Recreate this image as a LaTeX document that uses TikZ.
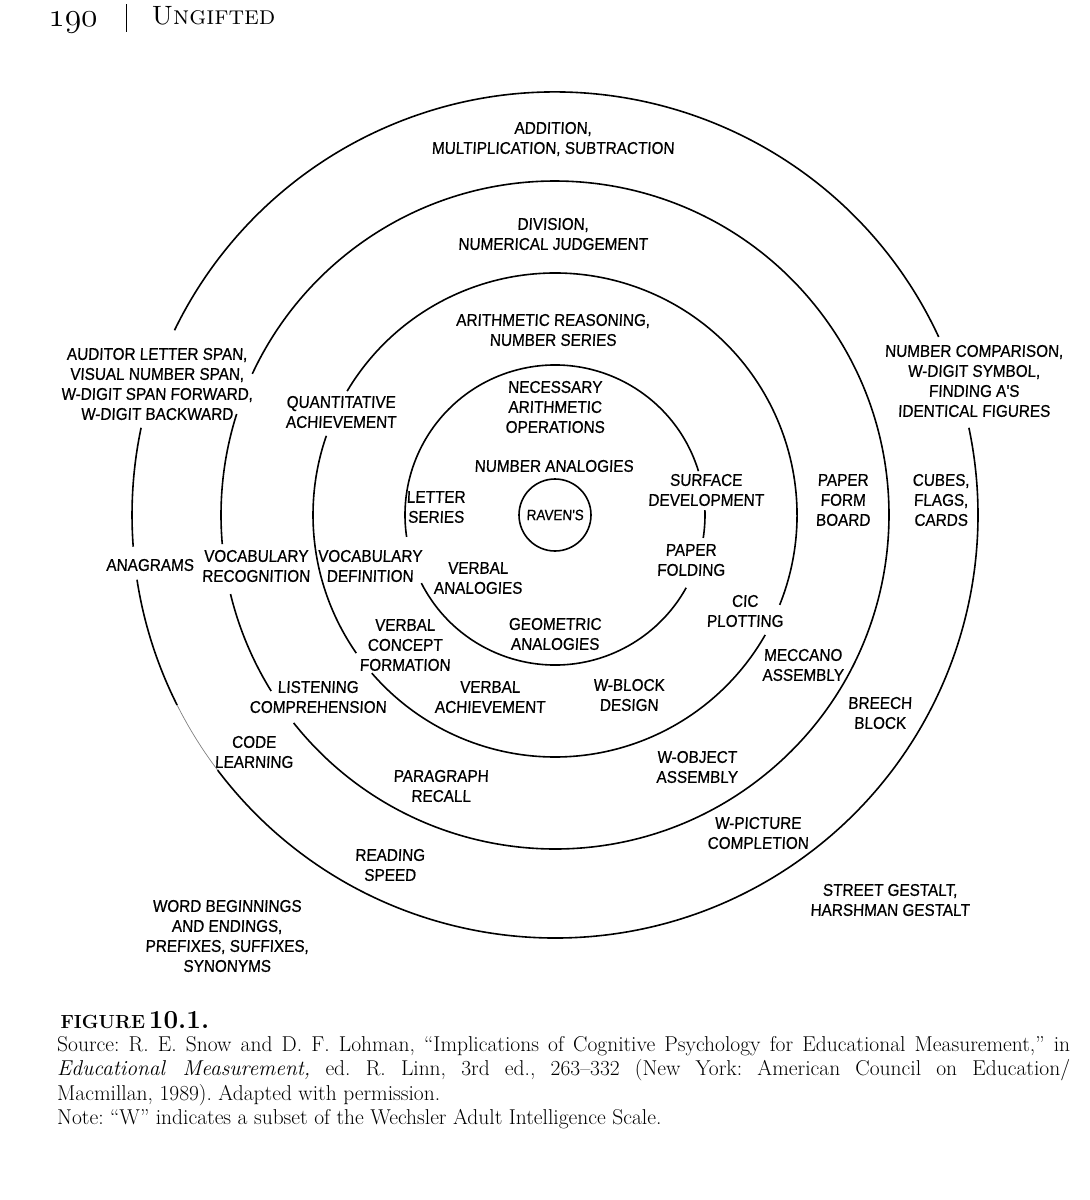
\documentclass[tikz,border=0pt]{standalone}
\usepackage{fontspec}
\usepackage{tikz}
\newfontfamily\handfont{Liberation Sans}[FakeStretch=0.9,FakeSlant=0.05,FakeBold=0.6]
\frenchspacing

\begin{document}
\begin{tikzpicture}[x=1pt,y=-1pt,
  ring/.style={line width=1.6pt},
  tag/.style={font=\handfont\fontsize{17}{20}\selectfont,align=center,inner sep=0pt}]
  \useasboundingbox (0,0) rectangle (1090,1200);
  \coordinate(c) at (555,515);
  \node(40)[anchor=base,scale=1.35,transform shape,inner sep=0pt] at (73,26){\fontsize{24}{24}\usefont{OML}{lmm}{m}{it}190};
  \node(41)[anchor=west] at (148,16){\fontsize{26.5}{26.5}\selectfont\textsc{Ungifted}};
  \draw[line width=0.8pt] (126,4)--(126,32);
  \node(1)[tag] at (553,139){ADDITION,\\MULTIPLICATION, SUBTRACTION};
  \node(2)[tag] at (553,234){DIVISION,\\NUMERICAL JUDGEMENT};
  \node(3)[tag] at (553,330){ARITHMETIC REASONING,\\NUMBER SERIES};
  \node(4)[tag] at (555,407){NECESSARY\\ARITHMETIC\\OPERATIONS};
  \node(5)[tag] at (554,466){NUMBER ANALOGIES};
  \node(6)[tag] at (436,507){LETTER\\SERIES};
  \node(7)[tag,draw,circle,ring,minimum size=72pt,font=\handfont\fontsize{15}{18}\selectfont] at (555,515){RAVEN'S};
  \node(8)[tag] at (706,490){SURFACE\\DEVELOPMENT};
  \node(9)[tag] at (691,560){PAPER\\FOLDING};
  \node(10)[tag] at (478,578){VERBAL\\ANALOGIES};
  \node(11)[tag] at (555,634){GEOMETRIC\\ANALOGIES};
  \node(12)[tag] at (370,566){VOCABULARY\\DEFINITION};
  \node(13)[tag] at (256,566){VOCABULARY\\RECOGNITION};
  \node(14)[tag] at (150,565){ANAGRAMS};
  \node(15)[tag] at (341,412){QUANTITATIVE\\ACHIEVEMENT};
  \node(16)[tag] at (157,384){AUDITOR LETTER SPAN,\\VISUAL NUMBER SPAN,\\W-DIGIT SPAN FORWARD,\\W-DIGIT BACKWARD};
  \node(17)[tag] at (974,381){NUMBER COMPARISON,\\W-DIGIT SYMBOL,\\FINDING A'S\\IDENTICAL FIGURES};
  \node(18)[tag] at (843,500){PAPER\\FORM\\BOARD};
  \node(19)[tag] at (941,500){CUBES,\\FLAGS,\\CARDS};
  \node(20)[tag] at (745,611){CIC\\PLOTTING};
  \node(21)[tag] at (803,665){MECCANO\\ASSEMBLY};
  \node(22)[tag] at (880,713){BREECH\\BLOCK};
  \node(23)[tag] at (405,645){VERBAL\\CONCEPT\\FORMATION};
  \node(24)[tag] at (490,697){VERBAL\\ACHIEVEMENT};
  \node(25)[tag] at (629,695){W-BLOCK\\DESIGN};
  \node(26)[tag] at (318,697){LISTENING\\COMPREHENSION};
  \node(27)[tag] at (254,752){CODE\\LEARNING};
  \node(28)[tag] at (441,786){PARAGRAPH\\RECALL};
  \node(29)[tag] at (697,767){W-OBJECT\\ASSEMBLY};
  \node(30)[tag] at (758,833){W-PICTURE\\COMPLETION};
  \node(31)[tag] at (390,865){READING\\SPEED};
  \node(32)[tag] at (890,900){STREET GESTALT,\\HARSHMAN GESTALT};
  \node(33)[tag] at (227,936){WORD BEGINNINGS\\AND ENDINGS,\\PREFIXES, SUFFIXES,\\SYNONYMS};
  \draw[ring] (c) ++(-17:150) arc (-17:-188.4:150);
  \draw[ring] (c) ++(-207:150) arc (-207:-331:150);
  \draw[ring] (c) ++(8.8:150) arc (8.8:-1.9:150);
  \draw[ring] (c) ++(-160.9:242) arc (-160.9:-214.8:242);
  \draw[ring] (c) ++(-220.8:242) arc (-220.8:-330.3:242);
  \draw[ring] (c) ++(-338.2:242) arc (-338.2:-509.2:242);
  \draw[ring] (c) ++(-162.4:334) arc (-162.4:-185:334);
  \draw[ring] (c) ++(-193.7:334) arc (-193.7:-211.8:334);
  \draw[ring] (c) ++(-218.5:334) arc (-218.5:-515:334);
  \draw[ring] (c) ++(-24.9:423) arc (-24.9:-154.1:423);
  \draw[ring] (c) ++(-168.1:423) arc (-168.1:-184.3:423);
  \draw[ring] (c) ++(-188.8:423) arc (-188.8:-206.7:423);
  \draw[line width=0.7pt,gray] (c) ++(-206.7:423) arc (-206.7:-217.1:423);
  \draw[ring] (c) ++(-217.1:423) arc (-217.1:-371.9:423);
  \node(42)[anchor=west,font=\bfseries] at (57,1020){{\fontsize{19}{19}\selectfont FIGURE} {\fontsize{26}{26}\selectfont 10.1.}};
  \node(43)[anchor=north west,text width=1013pt,inner sep=0pt,align=justify,font=\fontsize{21.5}{24.5}\selectfont] at (57,1036){Source: R. E. Snow and D. F. Lohman, “Implications of Cognitive Psychology for Educational Measurement,” in\linebreak \textit{Educational Measurement,} ed. R. Linn, 3rd ed., 263–332 (New York: American Council on Education/\linebreak Macmillan, 1989). Adapted with permission.\\Note: “W” indicates a subset of the Wechsler Adult Intelligence Scale.};
\end{tikzpicture}
\end{document}
